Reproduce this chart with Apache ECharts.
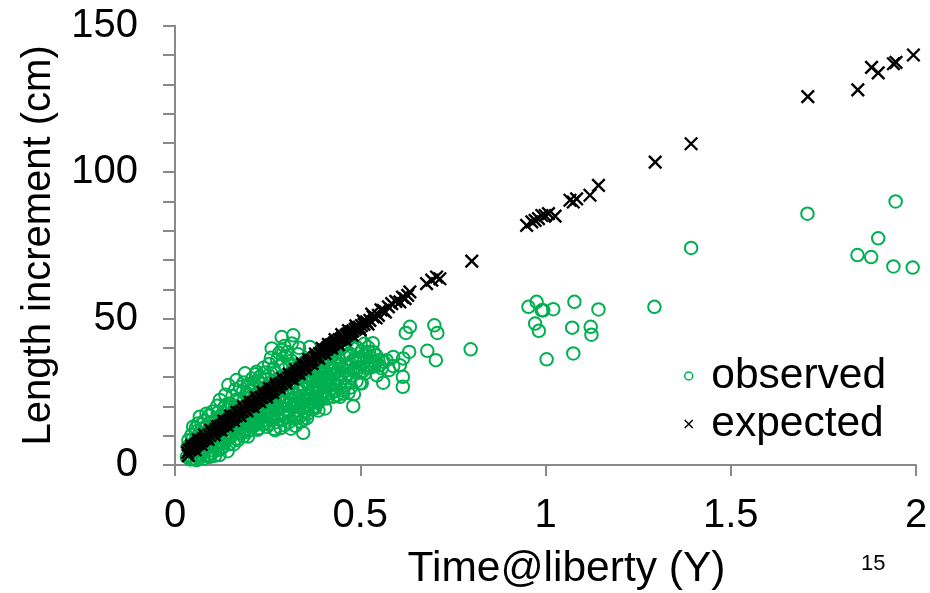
<!DOCTYPE html>
<html>
<head>
<meta charset="utf-8">
<script src="https://cdn.jsdelivr.net/npm/echarts@6/dist/echarts.min.js"></script>
<style>
html,body{margin:0;padding:0;background:#fff;}
#chart{width:930px;height:593px;}
</style>
</head>
<body>
<div id="chart"></div>
<script>
const xTicks = [0, 0.5, 1, 1.5, 2];
const yTicks = [0, 50, 100, 150];
const seriesNames = ['observed', 'expected'];

const observed = [
[0.032,2.8],[0.036,8.5],[0.038,5.0],[0.040,3.2],[0.042,6.8],[0.044,10.2],[0.046,2.1],[0.048,4.4],[0.049,13.1],[0.051,7.6],[0.053,1.9],[0.055,5.8],[0.057,9.3],[0.059,1.7],[0.058,11.5],[0.060,3.6],
[0.062,14.2],[0.064,6.9],[0.066,2.4],[0.067,16.5],[0.069,9.8],[0.071,4.8],[0.073,12.3],[0.075,7.2],[0.077,2.2],[0.079,15.0],[0.081,10.6],[0.083,5.3],[0.085,13.4],[0.087,3.1],[0.089,8.0],[0.091,16.8],[0.093,11.2],[0.094,2.8],[0.096,6.2],[0.098,14.6],[0.100,9.1],[0.100,4.0],[0.085,17.5],[0.072,13.9],
[0.034,6.2],[0.041,1.9],[0.047,8.8],[0.052,3.9],[0.056,12.6],[0.061,5.2],[0.065,10.5],[0.068,3.4],[0.074,9.6],[0.078,5.9],[0.082,13.0],[0.088,6.4],[0.092,3.6],[0.097,12.1],[0.099,7.2],
[0.102,18.3],[0.104,12.0],[0.106,6.5],[0.108,3.2],[0.110,15.4],[0.112,9.4],[0.114,20.2],[0.116,5.1],[0.118,13.3],[0.120,3.4],[0.121,22.2],[0.123,10.7],[0.125,17.0],[0.127,7.4],[0.129,14.1],[0.130,6.2],[0.132,19.5],[0.134,11.8],[0.136,24.0],[0.138,8.6],[0.140,16.2],[0.142,4.7],[0.144,27.3],[0.146,12.9],[0.148,21.0],[0.150,9.5],[0.149,14.8],[0.113,7.9],[0.131,16.5],[0.141,18.9],
[0.103,5.0],[0.107,14.6],[0.111,11.0],[0.115,17.8],[0.119,8.0],[0.124,5.6],[0.128,12.0],[0.133,9.2],[0.137,20.5],[0.139,13.4],[0.143,10.6],[0.147,7.2],[0.151,12.2],[0.154,20.6],[0.158,15.5],[0.164,9.0],[0.167,22.4],[0.171,13.6],[0.175,19.6],[0.179,12.8],[0.183,25.0],[0.187,13.8],[0.191,20.2],[0.194,11.2],[0.198,17.4],
[0.152,17.6],[0.153,10.2],[0.155,23.5],[0.157,13.0],[0.159,7.1],[0.161,19.8],[0.163,25.8],[0.166,29.0],[0.166,13.1],[0.168,16.0],[0.170,8.5],[0.172,22.0],[0.174,11.4],[0.176,26.6],[0.178,18.4],[0.180,10.8],[0.182,14.3],[0.184,21.5],[0.186,28.2],[0.188,16.9],[0.189,31.3],[0.190,12.0],[0.192,24.3],[0.193,15.3],[0.195,19.0],[0.197,9.7],[0.199,27.0],[0.200,14.0],[0.162,11.6],[0.177,15.2],[0.185,9.8],[0.196,22.9],
[0.202,11.9],[0.204,18.2],[0.206,23.2],[0.208,29.5],[0.210,16.4],[0.212,13.2],[0.214,26.0],[0.216,20.6],[0.218,31.0],[0.220,14.2],[0.220,31.8],[0.222,18.0],[0.224,24.8],[0.226,12.6],[0.228,21.7],[0.229,30.1],[0.231,16.0],[0.233,27.8],[0.235,19.6],[0.237,13.8],[0.239,33.2],[0.241,23.0],[0.243,17.3],[0.245,29.2],[0.247,16.5],[0.249,20.8],[0.250,26.0],[0.207,15.0],[0.217,17.7],[0.227,15.6],[0.236,22.1],[0.244,14.4],
[0.201,25.2],[0.205,13.4],[0.209,19.6],[0.213,28.0],[0.215,15.2],[0.219,22.8],[0.223,12.0],[0.225,28.6],[0.230,18.8],[0.234,14.8],[0.238,26.4],[0.240,18.0],[0.242,31.6],[0.246,20.0],[0.248,13.0],
[0.252,14.0],[0.254,34.5],[0.256,19.2],[0.258,23.6],[0.260,17.0],[0.261,39.8],[0.263,28.5],[0.265,21.1],[0.267,12.4],[0.269,31.6],[0.270,11.9],[0.272,25.4],[0.274,18.8],[0.276,36.0],[0.278,22.4],[0.280,15.6],[0.282,29.8],[0.284,20.0],[0.286,33.8],[0.288,43.7],[0.288,39.2],[0.290,24.2],[0.292,17.4],[0.294,27.2],[0.296,13.6],[0.298,37.2],[0.300,21.6],[0.255,27.0],[0.262,16.2],[0.271,20.4],[0.279,26.6],[0.287,15.2],[0.297,19.0],
[0.251,22.2],[0.253,30.6],[0.257,16.4],[0.259,36.6],[0.264,18.6],[0.266,33.0],[0.268,23.4],[0.273,14.6],[0.275,28.0],[0.277,17.2],[0.281,38.2],[0.283,23.2],[0.285,12.6],[0.289,19.8],[0.291,34.6],[0.293,22.0],[0.295,40.6],[0.299,16.6],
[0.302,30.6],[0.304,17.9],[0.306,25.0],[0.308,14.6],[0.310,34.0],[0.312,22.2],[0.315,41.5],[0.316,19.6],[0.318,28.0],[0.319,44.3],[0.321,24.4],[0.323,15.8],[0.324,17.0],[0.326,31.8],[0.328,20.7],[0.330,26.5],[0.332,37.8],[0.334,18.6],[0.336,23.3],[0.338,29.4],[0.340,14.8],[0.342,21.4],[0.344,33.6],[0.346,11.0],[0.346,22.2],[0.348,27.0],[0.350,18.0],[0.309,21.0],[0.317,26.2],[0.329,16.4],[0.337,25.6],[0.343,19.3],
[0.301,25.8],[0.303,38.6],[0.307,20.4],[0.311,29.4],[0.313,12.4],[0.314,35.6],[0.320,20.8],[0.322,33.0],[0.325,13.4],[0.327,24.0],[0.331,29.6],[0.333,21.2],[0.335,40.0],[0.339,16.8],[0.341,27.4],[0.345,31.0],[0.347,15.6],[0.349,35.2],
[0.352,24.0],[0.355,20.5],[0.357,30.2],[0.359,17.6],[0.361,26.8],[0.364,40.3],[0.365,22.4],[0.367,35.0],[0.369,19.0],[0.371,28.6],[0.373,24.8],[0.375,32.0],[0.378,19.9],[0.378,19.3],[0.380,27.6],[0.382,24.4],[0.384,36.4],[0.386,21.2],[0.388,30.4],[0.390,26.0],[0.392,33.5],[0.394,22.7],[0.396,28.9],[0.398,38.6],[0.400,25.2],[0.358,23.6],[0.372,21.5],[0.387,18.6],[0.395,35.5],
[0.353,28.4],[0.356,16.0],[0.360,32.4],[0.362,20.4],[0.366,29.2],[0.370,25.6],[0.374,37.0],[0.376,22.8],[0.379,30.6],[0.383,33.2],[0.385,26.4],[0.389,22.0],[0.391,29.8],[0.393,36.8],[0.397,24.0],[0.399,32.0],
[0.402,31.4],[0.405,19.3],[0.407,27.4],[0.409,22.7],[0.411,35.8],[0.413,29.6],[0.415,24.6],[0.418,41.0],[0.420,32.8],[0.422,26.2],[0.424,37.5],[0.427,23.3],[0.427,27.9],[0.429,30.8],[0.431,34.6],[0.433,25.4],[0.436,39.3],[0.438,29.0],[0.440,32.4],[0.442,36.6],[0.445,23.3],[0.446,28.2],[0.448,42.4],[0.450,25.6],[0.416,30.2],[0.435,27.5],
[0.403,35.0],[0.406,23.8],[0.410,30.0],[0.414,27.2],[0.417,38.0],[0.421,29.4],[0.425,33.6],[0.428,25.0],[0.432,37.8],[0.434,31.6],[0.437,23.8],[0.441,29.6],[0.444,34.4],[0.447,39.6],[0.449,30.6],
[0.452,33.2],[0.454,24.4],[0.457,37.2],[0.460,29.8],[0.463,34.5],[0.466,43.0],[0.469,31.2],[0.472,38.0],[0.475,26.5],[0.478,35.5],[0.481,20.1],[0.484,33.0],[0.487,40.6],[0.490,28.6],[0.494,36.2],[0.497,31.5],[0.499,27.9],[0.499,43.2],[0.504,27.9],[0.505,38.8],[0.509,35.0],[0.513,31.3],[0.517,34.1],[0.521,40.2],[0.526,36.8],[0.531,33.4],[0.536,38.5],[0.540,35.2],[0.549,35.8],[0.545,30.6],[0.558,33.0],[0.562,28.1],[0.571,35.8],[0.578,32.4],
[0.455,40.4],[0.458,27.2],[0.462,32.2],[0.465,37.6],[0.468,24.6],[0.471,33.8],[0.474,29.6],[0.477,41.4],[0.480,32.2],[0.483,24.2],[0.486,36.6],[0.489,31.8],[0.492,40.0],[0.495,33.4],[0.502,36.4],[0.507,32.0],[0.511,41.4],[0.515,37.4],[0.519,33.2],[0.524,38.6],[0.529,35.6],[0.534,41.6],[0.538,33.8],[0.543,37.4],[0.552,34.0],
[0.589,36.9],[0.589,33.8],[0.607,34.1],[0.616,36.4],[0.615,30.1],[0.615,26.7],[0.564,35.2],[0.623,45.1],[0.632,38.6],[0.634,47.2],[0.681,39.0],[0.700,47.7],[0.708,45.1],[0.704,35.8],[0.798,39.5],
[0.954,54.0],[0.976,55.7],[0.990,52.8],[0.994,52.8],[1.021,53.2],[1.078,55.7],[1.143,53.1],[0.972,48.3],[0.982,45.8],[1.072,46.9],[1.122,47.2],[1.124,44.5],[1.003,36.1],[1.075,38.1],[1.294,54.0],[1.393,74.1],
[1.707,85.8],[1.945,90.0],[1.898,77.4],[1.842,71.7],[1.879,71.0],[1.939,67.8],[1.991,67.4]
];

const expected = [
[0.034,4.3],[0.038,5.1],[0.043,5.4],[0.047,6.0],[0.052,6.3],[0.056,6.9],[0.061,7.3],[0.064,7.6],[0.069,8.2],[0.073,8.3],[0.077,8.9],[0.082,9.2],[0.086,9.6],[0.091,10.3],[0.094,10.1],[0.099,10.9],[0.103,11.0],[0.108,11.6],[0.112,12.2],[0.117,12.3],[0.121,12.9],[0.126,13.4],[0.129,13.5],[0.134,14.0],[0.138,14.7],[0.143,14.8],[0.147,15.4],[0.151,15.8],[0.156,16.0],[0.160,16.7],[0.165,16.8],[0.169,17.5],[0.173,17.7],[0.178,18.3],[0.182,18.4],[0.187,19.1],[0.191,19.2],[0.196,19.9],[0.200,20.1],[0.204,20.3],[0.209,21.1],[0.213,21.2],[0.218,21.8],[0.222,22.1],[0.226,22.3],[0.231,23.0],[0.235,23.1],[0.240,23.8],[0.244,24.0],[0.249,24.4],[0.253,24.9],[0.257,25.0],[0.262,25.8],[0.266,25.9],[0.271,26.6],[0.275,26.8],[0.279,27.1],[0.284,27.7],[0.288,27.9],[0.293,28.6],[0.297,28.7],[0.301,29.1],[0.306,29.7],[0.310,29.8],[0.315,30.5],[0.319,30.7],[0.324,31.3],[0.328,31.5],[0.332,32.0],[0.337,32.6],[0.341,32.8],[0.346,33.5],[0.350,33.8],[0.354,34.2],[0.359,34.9],[0.363,35.1],[0.368,35.8],[0.372,36.0],[0.377,36.7],[0.381,37.1],[0.385,37.3],[0.390,38.0],[0.394,38.2],[0.399,38.9],[0.403,39.2],[0.408,39.5],[0.412,40.1],[0.416,40.3],[0.421,40.9],[0.425,41.1],[0.430,41.6],[0.434,42.0],[0.439,42.2],[0.443,42.8],[0.448,43.0],[0.452,43.5],[0.457,43.8],[0.462,44.3],[0.466,44.7],[0.471,44.9],[0.476,45.5],[0.480,45.8],[0.486,46.3],[0.491,46.8],[0.497,47.0],[0.503,47.6],[0.510,48.0],[0.517,48.9],[0.526,49.4],[0.535,50.6],[0.549,51.1],[0.562,52.8],[0.576,54.0],[0.585,55.1],[0.607,55.7],[0.621,56.8],[0.634,59.1],[0.679,61.9],[0.693,63.1],[0.706,64.2],[0.715,63.6],[0.801,69.6],
[0.036,3.2],[0.045,6.6],[0.054,5.2],[0.063,8.6],[0.071,7.0],[0.080,10.2],[0.089,8.7],[0.097,11.8],[0.106,10.3],[0.115,13.3],[0.124,11.9],[0.132,15.0],[0.141,13.5],[0.150,16.8],[0.158,15.2],[0.167,18.0],[0.176,16.8],[0.185,19.9],[0.194,18.5],[0.203,21.4],[0.211,19.9],[0.220,23.0],[0.229,21.6],[0.238,24.8],[0.247,23.2],[0.255,26.1],[0.264,24.7],[0.273,27.7],[0.282,26.3],[0.291,29.5],[0.299,28.0],[0.308,31.0],[0.317,29.4],[0.326,32.6],[0.335,31.2],[0.344,34.5],[0.352,32.9],[0.361,36.0],[0.370,34.6],[0.379,37.9],[0.388,36.4],[0.397,39.8],[0.405,38.0],[0.414,41.2],[0.423,39.9],[0.432,42.8],[0.441,41.1],[0.450,44.5],[0.459,42.8],[0.468,45.9],[0.478,44.3],[0.488,47.5],[0.500,46.2],[0.508,49.2],[0.521,48.1],[0.531,51.5],[0.543,50.2],[0.556,53.0],[0.568,52.2],[0.596,55.9],[0.614,57.3],[0.628,57.9],
[0.949,81.8],[0.963,83.0],[0.972,83.5],[0.981,84.1],[0.990,85.2],[0.999,85.2],[1.008,85.8],[1.026,85.0],[1.066,90.4],[1.075,89.8],[1.084,90.9],[1.120,92.1],[1.143,95.5],[1.296,103.4],[1.393,109.7],
[1.708,125.8],[1.843,128.1],[1.880,135.8],[1.898,133.9],[1.939,137.0],[1.946,137.5],[1.993,140.0]
];

const FONT = '"Liberation Sans", Arial, sans-serif';
const GREEN = '#00b050';
const AXIS = '#898989';
const XPATH = 'path://M0,0L10,10M10,0L0,10';

const chart = echarts.init(document.getElementById('chart'), null, {renderer: 'canvas'});
chart.setOption({
  animation: false,
  backgroundColor: '#fff',
  textStyle: {fontFamily: FONT},
  grid: {left: 175, right: 14, top: 25.7, bottom: 128, containLabel: false, outerBoundsMode: 'none'},
  xAxis: {
    type: 'value', min: xTicks[0], max: xTicks[xTicks.length - 1], interval: 0.5,
    name: 'Time@liberty (Y)', nameLocation: 'middle', nameGap: 83,
    nameTextStyle: {fontSize: 42.5, color: '#000', fontFamily: FONT, padding: [0, 0, 0, 42]},
    axisLine: {show: true, lineStyle: {color: AXIS, width: 2}},
    axisTick: {show: true, inside: false, length: 11, lineStyle: {color: AXIS, width: 2}},
    splitLine: {show: false},
    axisLabel: {fontSize: 40, color: '#000', fontFamily: FONT, margin: 31,
      formatter: v => xTicks.indexOf(v) >= 0 ? String(v) : ''}
  },
  yAxis: {
    type: 'value', min: yTicks[0], max: yTicks[yTicks.length - 1], interval: 10,
    name: 'Length increment (cm)', nameLocation: 'middle', nameGap: 116, nameRotate: 90,
    nameTextStyle: {fontSize: 40, color: '#000', fontFamily: FONT},
    axisLine: {show: true, lineStyle: {color: AXIS, width: 2}},
    axisTick: {show: true, inside: false, length: 12, lineStyle: {color: AXIS, width: 2}},
    splitLine: {show: false},
    axisLabel: {fontSize: 40, color: '#000', fontFamily: FONT, margin: 37,
      formatter: v => yTicks.indexOf(v) >= 0 ? String(v) : ''}
  },
  legend: {
    orient: 'vertical', left: 679, top: 347, itemWidth: 35, itemHeight: 8, itemGap: 0,
    symbolKeepAspect: true,
    textStyle: {fontSize: 42.5, color: '#000', fontFamily: FONT, lineHeight: 48},
    data: [
      {name: seriesNames[0], icon: 'circle', itemStyle: {color: 'rgba(0,0,0,0)', borderColor: GREEN, borderWidth: 1.5}},
      {name: seriesNames[1], icon: XPATH, itemStyle: {color: 'rgba(0,0,0,0)', borderColor: '#000', borderWidth: 1.5}}
    ]
  },
  series: [
    {
      name: seriesNames[0], type: 'scatter', data: observed, symbol: 'circle', symbolSize: 12.5,
      itemStyle: {color: 'rgba(0,0,0,0)', borderColor: GREEN, borderWidth: 2, opacity: 1},
      emphasis: {disabled: true}, z: 2
    },
    {
      name: seriesNames[1], type: 'scatter', data: expected, symbol: XPATH, symbolSize: 12.5,
      itemStyle: {color: 'rgba(0,0,0,0)', borderColor: '#000', borderWidth: 2.4, opacity: 1},
      emphasis: {disabled: true}, z: 3
    }
  ],
  graphic: [
    {type: 'text', left: 861, top: 553, style: {text: '15', fontSize: 22, fill: '#000', fontFamily: FONT}}
  ]
});
</script>
</body>
</html>
